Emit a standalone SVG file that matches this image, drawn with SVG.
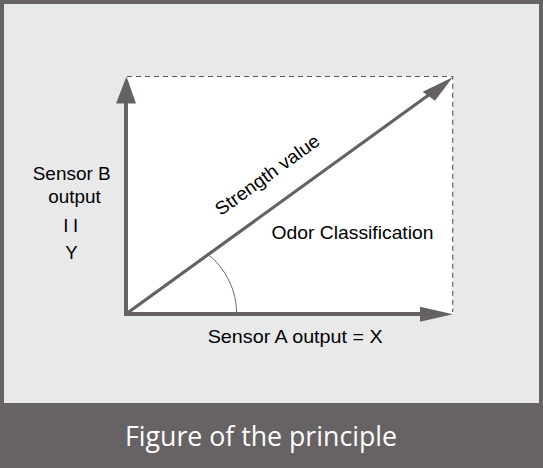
<svg xmlns="http://www.w3.org/2000/svg" width="543" height="468" viewBox="0 0 543 468">
  <style>
    .lbl { font-family: "Liberation Sans", Arial, sans-serif; font-size: 18.6px; fill: #000; }
    .axis { stroke: #656163; stroke-width: 4; fill: none; }
    .diag { stroke: #656163; stroke-width: 3.2; fill: none; }
    .head { fill: #656163; stroke: none; }
    .dash { stroke: #5a5a5a; stroke-width: 1.1; stroke-dasharray: 5 4; fill: none; }
    .title { font-family: "Open Sans", "Noto Sans", sans-serif; font-size: 26.5px; fill: #ffffff; }
  </style>
  <!-- frame -->
  <rect x="0" y="0" width="543" height="468" fill="#676264"/>
  <rect x="4" y="4" width="535" height="399" fill="#e8e9eb"/>
  <g id="plot-area">
    <rect x="126" y="76.5" width="326.7" height="237.5" fill="#ffffff"/>
    <path class="dash" d="M127,76.5 H452.7 V312"/>
  </g>
  <g id="connectors">
    <line class="axis" x1="126" y1="316" x2="126" y2="100"/>
    <polygon class="head" points="126.5,76.5 136,103.5 116,103.5"/>
    <line class="axis" x1="124" y1="314" x2="424" y2="314"/>
    <polygon class="head" points="453,314.3 420,306.7 420,321.7"/>
    <line class="diag" x1="126" y1="314" x2="430" y2="94"/>
    <polygon class="head" points="452.7,77.3 422.7,91.7 435,100.7"/>
    <path d="M206.7,253.3 A76.4,76.4 0 0 1 236.7,314" fill="none" stroke="#6a6a6a" stroke-width="1"/>
  </g>
  <g id="sensor-b-label">
    <text class="lbl" x="32.7" y="179.5" textLength="78" lengthAdjust="spacingAndGlyphs">Sensor B</text>
    <text class="lbl" x="48.3" y="203" textLength="52.5" lengthAdjust="spacingAndGlyphs">output</text>
    <text class="lbl" x="63.3" y="231.7" letter-spacing="4.6">II</text>
    <text class="lbl" x="65.3" y="259.3">Y</text>
  </g>
  <g id="sensor-a-label">
    <text class="lbl" x="207.7" y="342.5" textLength="175" lengthAdjust="spacingAndGlyphs">Sensor A output = X</text>
  </g>
  <g id="strength-label">
    <text class="lbl" x="0" y="0" text-anchor="middle" textLength="124" lengthAdjust="spacingAndGlyphs" transform="translate(271,180) rotate(-35.9)">Strength value</text>
  </g>
  <g id="odor-label">
    <text class="lbl" x="271.5" y="238.5" textLength="162" lengthAdjust="spacingAndGlyphs">Odor Classification</text>
  </g>
  <g id="caption">
    <text class="title" x="125" y="446" textLength="272" lengthAdjust="spacingAndGlyphs">Figure of the principle</text>
  </g>
</svg>
